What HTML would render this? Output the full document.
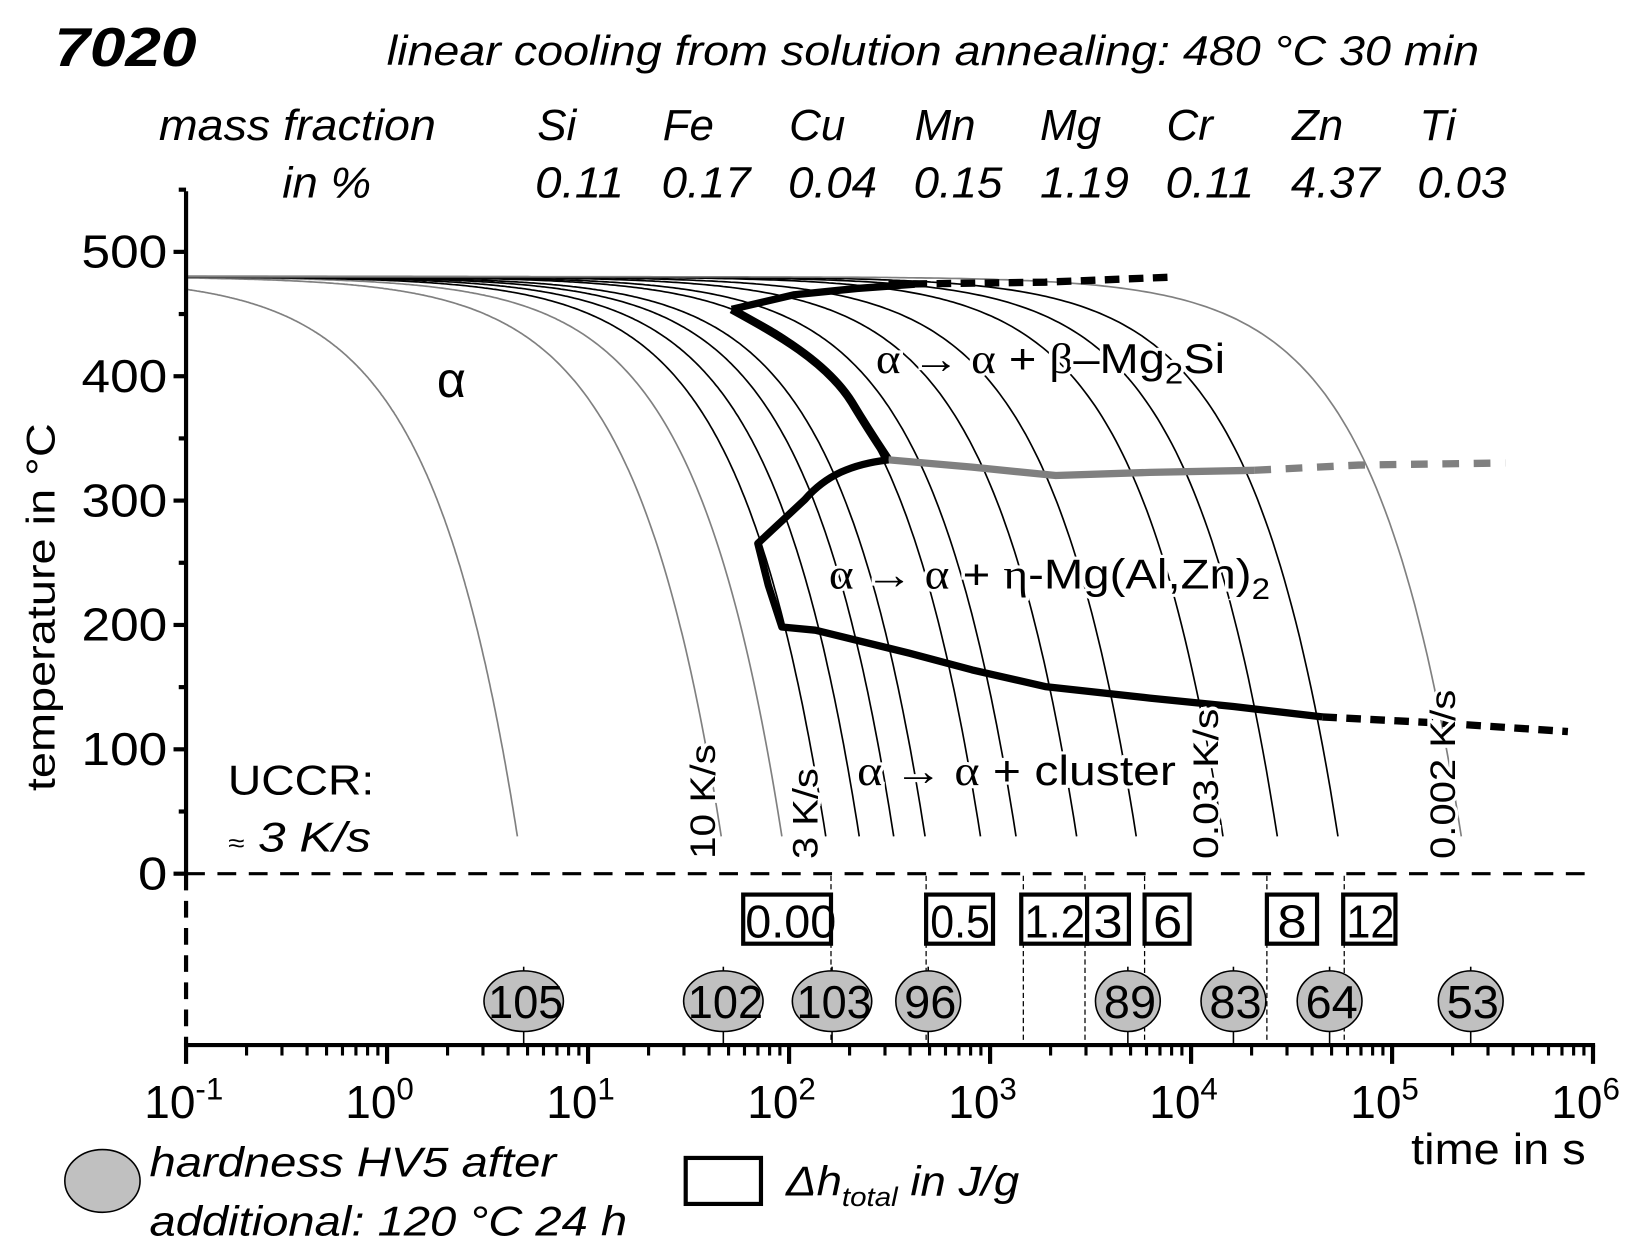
<!DOCTYPE html>
<html><head><meta charset="utf-8"><style>
html,body{margin:0;padding:0;background:#fff;}
svg{display:block;}
text{font-family:"Liberation Sans",sans-serif;fill:#000;}
.it{font-style:italic;}
</style></head><body>
<svg id="s" width="1639" height="1252" viewBox="0 0 1568 1198" preserveAspectRatio="none" xmlns="http://www.w3.org/2000/svg">
<rect width="1568" height="1198" fill="#fff"/>
<g id="curves" fill="none" stroke-width="1.6"></g>
<g fill="none" stroke-linejoin="round">
<path d="M850,272 L1000,270 L1125,265" stroke="#000" stroke-width="7" stroke-dasharray="14,9"/>
<path d="M700,296 L760,282 L820,276 L875,272" stroke="#000" stroke-width="7"/>
<path d="M700,296 C740,318 790,345 815,385 C830,410 840,425 850,440" stroke="#000" stroke-width="8"/>
<path d="M850,440 L930,447 L1010,455 L1100,452 L1200,450" stroke="#808080" stroke-width="7"/>
<path d="M1200,450 L1300,445 L1440,443" stroke="#808080" stroke-width="7" stroke-dasharray="16,14"/>
<path d="M850,440 C815,444 790,455 770,478 L725,520 L735,560 L748,600 L780,603 L870,625 L930,641 L1000,657 L1100,668 L1180,676 L1265,686" stroke="#000" stroke-width="7"/>
<path d="M1265,686 L1380,692 L1500,700" stroke="#000" stroke-width="7" stroke-dasharray="14,9"/>
</g>
<g stroke="#000">
<line x1="178" y1="183" x2="178" y2="836" stroke-width="4"/>
<line x1="178" y1="836" x2="178" y2="1000" stroke-width="4" stroke-dasharray="16,10"/>
<line x1="178" y1="836" x2="1524" y2="836" stroke-width="3" stroke-dasharray="18,12"/>
<line x1="176" y1="1000" x2="1526" y2="1000" stroke-width="4"/>
<g id="yt" stroke-width="4"></g>
<g id="xt" stroke-width="3"></g>
</g>
<g stroke="#000" stroke-width="1.2" stroke-dasharray="5,3">
<line x1="795" y1="838" x2="795" y2="1000"/><line x1="886" y1="838" x2="886" y2="1000"/>
<line x1="979" y1="838" x2="979" y2="1000"/><line x1="1038" y1="838" x2="1038" y2="1000"/>
<line x1="1095" y1="838" x2="1095" y2="1000"/><line x1="1212" y1="838" x2="1212" y2="1000"/>
<line x1="1286" y1="838" x2="1286" y2="1000"/>
</g>
<g fill="#fff" stroke="#000" stroke-width="4">
<rect x="711" y="856" width="84" height="47"/><rect x="886" y="856" width="64" height="47"/>
<rect x="977" y="856" width="63" height="47"/><rect x="1040" y="856" width="40" height="47"/>
<rect x="1095" y="856" width="43" height="47"/><rect x="1212" y="856" width="48" height="47"/>
<rect x="1285" y="856" width="50" height="47"/>
</g>
<g font-size="44" lengthAdjust="spacingAndGlyphs">
<text x="713" y="897" textLength="87" lengthAdjust="spacingAndGlyphs">0.00</text>
<text x="890" y="897" textLength="57" lengthAdjust="spacingAndGlyphs">0.5</text>
<text x="980" y="897" textLength="58" lengthAdjust="spacingAndGlyphs">1.2</text>
<text x="1046" y="897" textLength="28" lengthAdjust="spacingAndGlyphs">3</text>
<text x="1103" y="897" textLength="28" lengthAdjust="spacingAndGlyphs">6</text>
<text x="1222" y="897" textLength="28" lengthAdjust="spacingAndGlyphs">8</text>
<text x="1288" y="897" textLength="46" lengthAdjust="spacingAndGlyphs">12</text>
</g>
<g id="hv" stroke="#000" stroke-width="1.5"></g>
<text x="52" y="63" font-size="52" font-weight="bold" class="it" textLength="136" lengthAdjust="spacingAndGlyphs">7020</text>
<text x="370" y="62" font-size="40" class="it" textLength="1045" lengthAdjust="spacingAndGlyphs">linear cooling from solution annealing: 480 °C 30 min</text>
<g font-size="42" class="it">
<text x="152" y="134" textLength="265" lengthAdjust="spacingAndGlyphs">mass fraction</text><text x="270" y="189" textLength="85" lengthAdjust="spacingAndGlyphs">in %</text>
<text x="514" y="134">Si</text><text x="634" y="134">Fe</text><text x="755" y="134">Cu</text><text x="875" y="134">Mn</text>
<text x="995" y="134">Mg</text><text x="1116" y="134">Cr</text><text x="1236" y="134">Zn</text><text x="1358" y="134">Ti</text>
<text x="512" y="189" textLength="85" lengthAdjust="spacingAndGlyphs">0.11</text><text x="633" y="189" textLength="85" lengthAdjust="spacingAndGlyphs">0.17</text><text x="754" y="189" textLength="85" lengthAdjust="spacingAndGlyphs">0.04</text><text x="874" y="189" textLength="85" lengthAdjust="spacingAndGlyphs">0.15</text>
<text x="995" y="189" textLength="85" lengthAdjust="spacingAndGlyphs">1.19</text><text x="1115" y="189" textLength="85" lengthAdjust="spacingAndGlyphs">0.11</text><text x="1235" y="189" textLength="85" lengthAdjust="spacingAndGlyphs">4.37</text><text x="1356" y="189" textLength="85" lengthAdjust="spacingAndGlyphs">0.03</text>
</g>
<g font-size="44">
<text x="78" y="256" textLength="82" lengthAdjust="spacingAndGlyphs">500</text><text x="78" y="375" textLength="82" lengthAdjust="spacingAndGlyphs">400</text><text x="78" y="494" textLength="82" lengthAdjust="spacingAndGlyphs">300</text>
<text x="78" y="613" textLength="82" lengthAdjust="spacingAndGlyphs">200</text><text x="78" y="732" textLength="82" lengthAdjust="spacingAndGlyphs">100</text><text x="132" y="851" textLength="28" lengthAdjust="spacingAndGlyphs">0</text>
</g>
<text transform="translate(52,581) rotate(-90)" font-size="38" text-anchor="middle" textLength="352" lengthAdjust="spacingAndGlyphs">temperature in °C</text>
<g font-size="44" id="xl"></g>
<text x="1350" y="1114" font-size="42" textLength="167" lengthAdjust="spacingAndGlyphs">time in s</text>
<text x="418" y="380" font-size="48" font-family="Liberation Serif">α</text>
<g stroke="#fff" stroke-width="6" paint-order="stroke">
<text x="838" y="357" font-size="40" textLength="334" lengthAdjust="spacingAndGlyphs"><tspan font-family="Liberation Serif">α → α</tspan> + <tspan font-family="Liberation Serif">β</tspan>–Mg<tspan font-size="28" dy="10">2</tspan><tspan dy="-10">Si</tspan></text>
<text x="793" y="563" font-size="40" textLength="422" lengthAdjust="spacingAndGlyphs"><tspan font-family="Liberation Serif">α → α</tspan> + <tspan font-family="Liberation Serif">η</tspan>-Mg(Al,Zn)<tspan font-size="28" dy="10">2</tspan></text>
<text x="820" y="751" font-size="40" textLength="305" lengthAdjust="spacingAndGlyphs"><tspan font-family="Liberation Serif">α → α</tspan> + cluster</text>
<g font-size="34">
<text transform="translate(684,822) rotate(-90)" textLength="110" lengthAdjust="spacingAndGlyphs">10 K/s</text>
<text transform="translate(782,822) rotate(-90)" textLength="87" lengthAdjust="spacingAndGlyphs">3 K/s</text>
<text transform="translate(1165,822) rotate(-90)" textLength="144" lengthAdjust="spacingAndGlyphs">0.03 K/s</text>
<text transform="translate(1392,822) rotate(-90)" textLength="162" lengthAdjust="spacingAndGlyphs">0.002 K/s</text>
</g>
</g>
<text x="218" y="760" font-size="40" textLength="140" lengthAdjust="spacingAndGlyphs">UCCR:</text>
<text x="218" y="815" font-size="40" class="it" textLength="137" lengthAdjust="spacingAndGlyphs"><tspan font-size="24">≈</tspan> 3 K/s</text>
<ellipse cx="98" cy="1130" rx="36" ry="30" fill="#c0c0c0" stroke="#000" stroke-width="1.5"/>
<text x="143" y="1126" font-size="40" class="it" textLength="389" lengthAdjust="spacingAndGlyphs">hardness HV5 after</text>
<text x="143" y="1182" font-size="40" class="it" textLength="457" lengthAdjust="spacingAndGlyphs">additional: 120 °C 24 h</text>
<rect x="656" y="1108" width="72" height="44" fill="none" stroke="#000" stroke-width="4"/>
<text x="752" y="1144" font-size="40" class="it" textLength="223" lengthAdjust="spacingAndGlyphs">Δh<tspan font-size="26" dy="10">total</tspan><tspan dy="-10"> in J/g</tspan></text>
<script>
var NS="http://www.w3.org/2000/svg";
function X(t){return 178+(Math.log10(t)+1)*192.3;}
function Y(T){return 836-T*1.19;}
function el(p,n,a){var e=document.createElementNS(NS,n);for(var k in a)e.setAttribute(k,a[k]);p.appendChild(e);return e;}
var cg=document.getElementById("curves");
var ends=[[495,'#808080'],[690,'#808080'],[748,'#808080'],[790,'#000'],[822,'#000'],[855,'#000'],[885,'#000'],[938,'#000'],[972,'#000'],[1030,'#000'],[1087,'#000'],[1170,'#000'],[1222,'#000'],[1280,'#000'],[1398,'#808080']];
ends.forEach(function(e){var te=Math.pow(10,(e[0]-178)/192.3-1),r=450/te,d="";
for(var i=0;i<=300;i++){var lt=-1+(Math.log10(te)+1)*i/300,t=Math.pow(10,lt),T=480-r*t;d+=(i?"L":"M")+X(t).toFixed(1)+","+Y(T).toFixed(1);}
el(cg,"path",{d:d,stroke:e[1]});});
var yt=document.getElementById("yt");
for(var T=0;T<=550;T+=50){var maj=T%100==0;el(yt,"line",{x1:maj?166:171,x2:178,y1:Y(T),y2:Y(T)});}
var xt=document.getElementById("xt");
for(var d=-1;d<6;d++){for(var m=1;m<10;m++){var x=X(m*Math.pow(10,d));el(xt,"line",{x1:x,x2:x,y1:1000,y2:m==1?1018:1010,"stroke-width":m==1?4:3});}}
el(xt,"line",{x1:1524,x2:1524,y1:1000,y2:1018,"stroke-width":4});
var xl=document.getElementById("xl");
for(var d=-1;d<=6;d++){var x=X(Math.pow(10,d));var t=el(xl,"text",{x:x-40,y:1070});t.textContent="10";var s=el(t,"tspan",{"font-size":"30",dy:"-18"});s.textContent=d<0?"-1":String(d);}
var hv=document.getElementById("hv");
[[501,105],[692,102],[796,103],[888,96],[1079,89],[1180,83],[1272,64],[1407,53]].forEach(function(h){
el(hv,"line",{x1:h[0],x2:h[0],y1:925,y2:1000});
var n=String(h[1]).length>2;var w=n?38:31;
el(hv,"ellipse",{cx:h[0],cy:958,rx:w,ry:29,fill:"#c0c0c0"});
var L=n?72:50;
var t=el(hv,"text",{x:h[0]+2-L/2,y:974,"font-size":"44",stroke:"none",textLength:L,lengthAdjust:"spacingAndGlyphs"});t.textContent=h[1];});
</script>
</svg>
</body></html>
